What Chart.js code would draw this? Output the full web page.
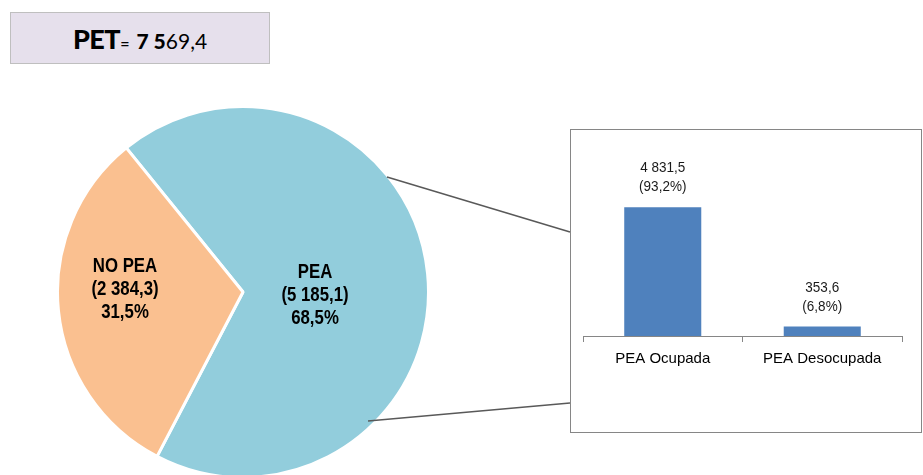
<!DOCTYPE html>
<html>
<head>
<meta charset="utf-8">
<script src="https://cdn.jsdelivr.net/npm/chart.js@4"></script>
<style>
  html, body { margin:0; padding:0; width:923px; height:475px; overflow:hidden; background:#fff; }
  #title { position:absolute; left:10px; top:12px; width:260px; height:52px; background:#e6e0ec; border:1px solid #bfbfbf; box-sizing:border-box;
           font-family:Lato, "Open Sans", sans-serif; color:#000; text-align:center; line-height:52px; white-space:nowrap; }
  #title .b1 { font-weight:900; font-size:27px; letter-spacing:-0.5px; }
  #title .b2 { font-weight:bold; font-size:16px; margin-right:7px; }
  #title .b3 { font-weight:900; font-size:21px; }
  #title .n  { font-weight:normal; font-size:21px; }
  #pie { position:absolute; left:56px; top:105px; }
  #box { position:absolute; left:570px; top:129px; width:352px; height:304px; border:1px solid #868686; box-sizing:border-box; }
  #bar { position:absolute; left:571px; top:130px; }
  #lines { position:absolute; left:0; top:0; }
</style>
</head>
<body>
<div id="title"><span class="b1">PET</span><span class="b2">=</span><span class="b3">7 5</span><span class="n">69,4</span></div>
<canvas id="pie" width="374" height="374"></canvas>
<div id="box"></div>
<canvas id="bar" width="349" height="301"></canvas>
<svg id="lines" width="923" height="475">
  <line x1="387" y1="177" x2="570" y2="232" stroke="#595959" stroke-width="1.5"/>
  <line x1="368" y1="421" x2="570" y2="403" stroke="#595959" stroke-width="1.5"/>
</svg>
<script>
// ---- data ----
const pieLabels = ['PEA', 'NO PEA'];
const pieValues = [5185.1, 2384.3];
const piePercents = ['68,5%', '31,5%'];
const pieValueTexts = ['(5 185,1)', '(2 384,3)'];
const pieColors = ['#92cddc', '#fac090'];

const barCategories = ['PEA Ocupada', 'PEA Desocupada'];
const barValues = [4831.5, 353.6];
const barValueTexts = ['4 831,5', '353,6'];
const barPercentTexts = ['(93,2%)', '(6,8%)'];

const SANS = '"Liberation Sans", Arial, sans-serif';

// label offsets relative to pie centre (style, not data)
const pieLabelOffsets = [{dx: 72, dy: 3}, {dx: -118, dy: -3}];

const pieLabelPlugin = {
  id: 'pieLabelPlugin',
  afterDatasetsDraw(chart) {
    const ctx = chart.ctx;
    const meta = chart.getDatasetMeta(0);
    const sx = 0.8;
    meta.data.forEach((arc, i) => {
      const cx = arc.x + pieLabelOffsets[i].dx;
      const cy = arc.y + pieLabelOffsets[i].dy;
      const lines = [pieLabels[i], pieValueTexts[i], piePercents[i]];
      ctx.save();
      ctx.translate(cx, cy);
      ctx.scale(sx, 1);
      ctx.fillStyle = '#000';
      ctx.font = 'bold 21px ' + SANS;
      ctx.textAlign = 'center';
      ctx.textBaseline = 'middle';
      lines.forEach((t, k) => ctx.fillText(t, 0, (k - 1) * 23));
      ctx.restore();
    });
  }
};

new Chart(document.getElementById('pie'), {
  type: 'pie',
  data: {
    labels: pieLabels,
    datasets: [{
      data: pieValues,
      backgroundColor: pieColors,
      borderColor: '#ffffff',
      borderWidth: 3,
      hoverOffset: 0
    }]
  },
  options: {
    responsive: false,
    animation: false,
    rotation: -39,
    layout: { padding: 0, autoPadding: false },
    plugins: { legend: { display: false }, tooltip: { enabled: false } }
  },
  plugins: [pieLabelPlugin]
});

const barLabelPlugin = {
  id: 'barLabelPlugin',
  afterDatasetsDraw(chart) {
    const ctx = chart.ctx;
    const meta = chart.getDatasetMeta(0);
    meta.data.forEach((bar, i) => {
      ctx.save();
      ctx.translate(bar.x, bar.y);
      ctx.scale(0.9, 1);
      ctx.fillStyle = '#1a1a1a';
      ctx.font = '15px ' + SANS;
      ctx.textAlign = 'center';
      ctx.textBaseline = 'middle';
      ctx.fillText(barValueTexts[i], 0, -39);
      ctx.fillText(barPercentTexts[i], 0, -20);
      ctx.restore();
    });
  }
};

new Chart(document.getElementById('bar'), {
  type: 'bar',
  data: {
    labels: barCategories,
    datasets: [{
      data: barValues,
      backgroundColor: '#4f81bd',
      borderWidth: 0,
      barPercentage: 0.483,
      categoryPercentage: 1.0
    }]
  },
  options: {
    responsive: false,
    animation: false,
    layout: { padding: { left: 12, right: 18, top: 46, bottom: 0 } },
    scales: {
      x: {
        offset: true,
        grid: { display: true, drawOnChartArea: false, offset: true, tickLength: 6, color: '#868686', lineWidth: 1 },
        border: { display: true, color: '#868686', width: 1 },
        ticks: { color: '#000', font: { family: SANS, size: 15 }, padding: 8 },
        afterFit(scale) { scale.height = 95; }
      },
      y: { display: false, min: 0, max: 6000 }
    },
    plugins: { legend: { display: false }, tooltip: { enabled: false } }
  },
  plugins: [barLabelPlugin]
});
</script>
</body>
</html>
